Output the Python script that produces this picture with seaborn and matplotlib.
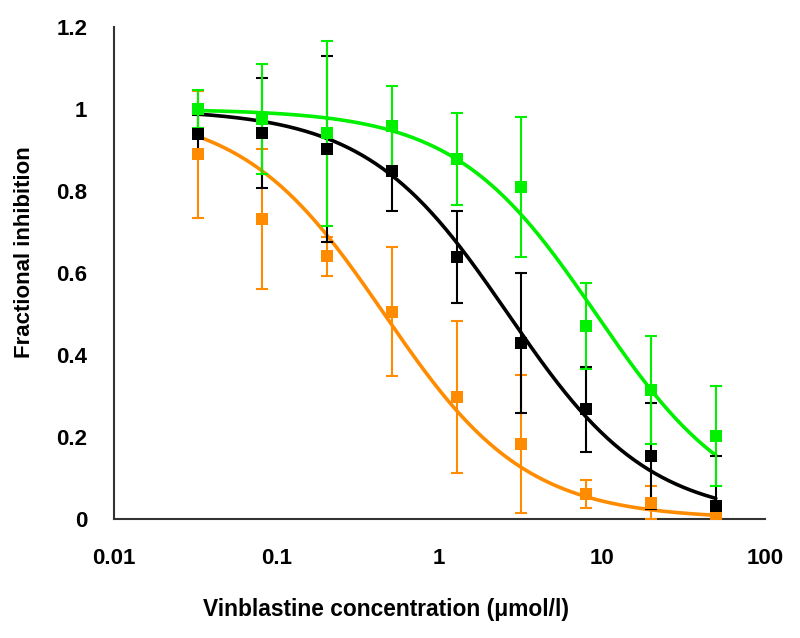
import numpy as np
import pandas as pd
import matplotlib
matplotlib.use("Agg")
import matplotlib.pyplot as plt
import seaborn as sns
from matplotlib.ticker import FixedLocator, FixedFormatter, NullLocator

# ---- data ----
conc = [0.0328, 0.08192, 0.2048, 0.512, 1.28, 3.2, 8.0, 20.0, 50.0]

orange_y   = [0.890, 0.732, 0.641, 0.506, 0.298, 0.183, 0.061, 0.040, 0.006]
orange_err = [0.155, 0.170, 0.047, 0.158, 0.186, 0.168, 0.034, 0.040, 0.010]

black_y    = [0.939, 0.942, 0.903, 0.849, 0.639, 0.429, 0.268, 0.154, 0.032]
black_err  = [0.046, 0.134, 0.226, 0.097, 0.112, 0.171, 0.104, 0.130, 0.122]

green_y    = [1.000, 0.976, 0.941, 0.958, 0.878, 0.810, 0.471, 0.315, 0.203]
green_err  = [0.046, 0.135, 0.225, 0.098, 0.112, 0.170, 0.104, 0.132, 0.122]

# fitted dose-response (Hill) parameters for the drawn curves
orange_ic50, orange_hill = 0.46, 1.0
black_ic50,  black_hill  = 2.65, 1.0
green_ic50,  green_hill  = 9.2, 1.0

x_ticks = [0.01, 0.1, 1, 10, 100]
x_tick_labels = ["0.01", "0.1", "1", "10", "100"]
y_ticks = [0, 0.2, 0.4, 0.6, 0.8, 1.0, 1.2]
y_tick_labels = ["0", "0.2", "0.4", "0.6", "0.8", "1", "1.2"]

ORANGE = "#FF8C00"
BLACK = "#000000"
GREEN = "#00F000"

sns.set_style("white")
plt.rcParams["font.family"] = ["Liberation Sans", "DejaVu Sans"]
plt.rcParams["font.weight"] = "bold"
plt.rcParams["text.color"] = "black"
plt.rcParams["axes.labelcolor"] = "black"
plt.rcParams["xtick.color"] = "black"
plt.rcParams["ytick.color"] = "black"

fig = plt.figure(figsize=(8.0, 6.38), dpi=100)
ax = fig.add_axes([0.142, 0.1865, 0.814, 0.771])

xs = np.logspace(np.log10(conc[0]), np.log10(conc[-1]), 300)

series = [
    ("orange", orange_y, orange_err, orange_ic50, orange_hill, ORANGE),
    ("black", black_y, black_err, black_ic50, black_hill, BLACK),
    ("green", green_y, green_err, green_ic50, green_hill, GREEN),
]

for name, ys, errs, ic50, hill, col in series:
    curve = pd.DataFrame({"x": xs, "y": 1.0 / (1.0 + (xs / ic50) ** hill)})
    sns.lineplot(data=curve, x="x", y="y", ax=ax, color=col, lw=2.6, zorder=2)

for name, ys, errs, ic50, hill, col in series:
    ax.errorbar(conc, ys, yerr=errs, fmt="none", ecolor=col, elinewidth=1.5,
                capsize=4, capthick=1.5, zorder=3, clip_on=True)
    pts = pd.DataFrame({"x": conc, "y": ys})
    sns.scatterplot(data=pts, x="x", y="y", ax=ax, color=col, marker="s",
                    s=70, edgecolor=col, linewidth=0, zorder=4)

ax.set_xscale("log")
ax.set_xlim(0.01, 100)
ax.set_ylim(0, 1.2)
ax.xaxis.set_major_locator(FixedLocator(x_ticks))
ax.xaxis.set_major_formatter(FixedFormatter(x_tick_labels))
ax.xaxis.set_minor_locator(NullLocator())
ax.yaxis.set_major_locator(FixedLocator(y_ticks))
ax.yaxis.set_major_formatter(FixedFormatter(y_tick_labels))

for s in ["top", "right"]:
    ax.spines[s].set_visible(False)
for s in ["left", "bottom"]:
    ax.spines[s].set_color("#333333")
    ax.spines[s].set_linewidth(1.5)

ax.tick_params(axis="both", which="major", direction="in", length=5,
               width=1.3, color="#333333", labelsize=16, labelcolor="black")
ax.tick_params(axis="x", pad=21)
ax.tick_params(axis="y", pad=19)
for lab in ax.get_xticklabels() + ax.get_yticklabels():
    lab.set_fontweight("bold")

ax.set_xlabel("Vinblastine concentration (μmol/l)", fontsize=16.4,
              fontweight="bold", color="black")
ax.set_ylabel("Fractional inhibition", fontsize=16, fontweight="bold",
              color="black")
ax.xaxis.set_label_coords(0.419, -0.16)
ax.yaxis.set_label_coords(-0.12, 0.543)
ax.grid(False)

fig.savefig("out.png", dpi=100, facecolor="white")
